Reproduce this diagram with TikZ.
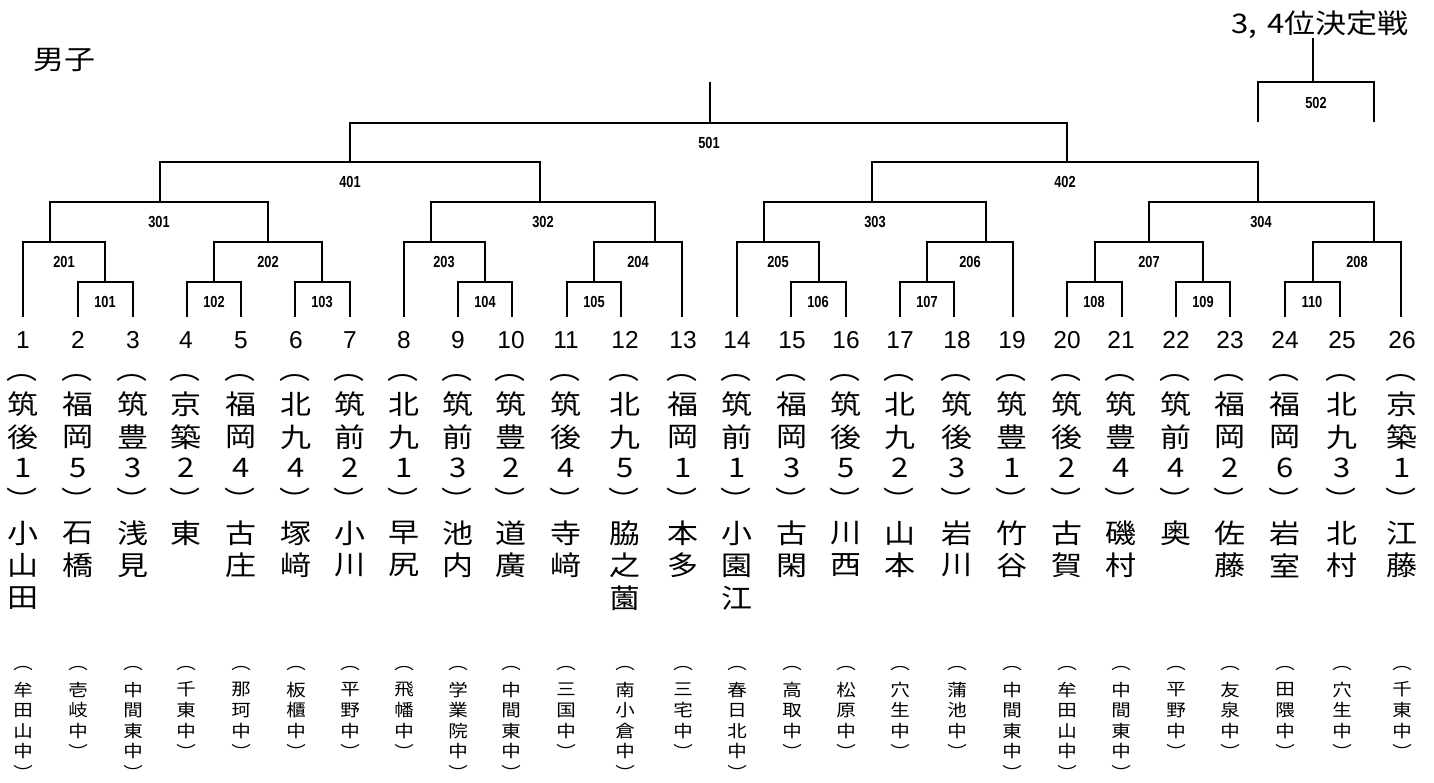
\documentclass[tikz,border=0pt]{standalone}
\usepackage{fontspec}
\setmainfont{Liberation Sans}
\newfontfamily\jpf{Noto Sans CJK JP}
\newcommand{\vsq}[1]{\scalebox{1}[0.87]{#1}}
\newcommand{\nrw}[1]{\scalebox{0.8}[1]{#1}}
\begin{document}
\begin{tikzpicture}[x=1pt,y=-1pt,
  bline/.style={line width=1.6pt,line join=miter},
  mlab/.style={inner sep=0pt,font=\fontsize{16}{16}\selectfont\bfseries},
  seed/.style={inner sep=0pt,font=\fontsize{24.5}{24.5}\selectfont},
  colch/.style={inner sep=0pt,font=\jpf\fontsize{31}{31}\selectfont},
  schch/.style={inner sep=0pt,font=\jpf\fontsize{19.5}{19.5}\selectfont},
  ttl/.style={inner sep=0pt,font=\jpf\fontsize{31}{31}\selectfont}]
\fill[white] (0,0) rectangle (1434,782);
\useasboundingbox (0,0) rectangle (1434,782);

\node[ttl] (boys) at (64,60) {\vsq{男子}};
\node[ttl] (third) at (1320,25) {\vsq{3,\hspace{0.35em}4位決定戦}};

\foreach \i/\x/\lx/\pa/\pb/\d/\nm/\sc in {
 1/23/23/筑/後/1/{小,山,田}/{︵,牟,田,山,中,︶},
 2/78/78/福/岡/5/{石,橋}/{︵,壱,岐,中,︶},
 3/133/133/筑/豊/3/{浅,見}/{︵,中,間,東,中,︶},
 4/186/187/京/築/2/{東}/{︵,千,東,中,︶},
 5/241/241/福/岡/4/{古,庄}/{︵,那,珂,中,︶},
 6/296/295/北/九/4/{塚,﨑}/{︵,板,櫃,中,︶},
 7/350/350/筑/前/2/{小,川}/{︵,平,野,中,︶},
 8/404/404/北/九/1/{早,尻}/{︵,飛,幡,中,︶},
 9/458/458/筑/前/3/{池,内}/{︵,学,業,院,中,︶},
 10/511/512/筑/豊/2/{道,廣}/{︵,中,間,東,中,︶},
 11/566/567/筑/後/4/{寺,﨑}/{︵,三,国,中,︶},
 12/625/621/北/九/5/{脇,之,薗}/{︵,南,小,倉,中,︶},
 13/683/682/福/岡/1/{本,多}/{︵,三,宅,中,︶},
 14/737/737/筑/前/1/{小,園,江}/{︵,春,日,北,中,︶},
 15/792/791/福/岡/3/{古,閑}/{︵,高,取,中,︶},
 16/846/846/筑/後/5/{川,西}/{︵,松,原,中,︶},
 17/900/900/北/九/2/{山,本}/{︵,穴,生,中,︶},
 18/957/954/筑/後/3/{岩,川}/{︵,蒲,池,中,︶},
 19/1012/1013/筑/豊/1/{竹,谷}/{︵,中,間,東,中,︶},
 20/1067/1067/筑/後/2/{古,賀}/{︵,牟,田,山,中,︶},
 21/1121/1122/筑/豊/4/{磯,村}/{︵,中,間,東,中,︶},
 22/1176/1176/筑/前/4/{奥}/{︵,平,野,中,︶},
 23/1230/1230/福/岡/2/{佐,藤}/{︵,友,泉,中,︶},
 24/1285/1285/福/岡/6/{岩,室}/{︵,田,隈,中,︶},
 25/1342/1340/北/九/3/{北,村}/{︵,穴,生,中,︶},
 26/1402/1401/京/築/1/{江,藤}/{︵,千,東,中,︶}}{
  \node[seed] (n\i) at (\x,340) {\i};
  \coordinate (l\i) at (\lx,317);
  \node[colch] (p\i-o) at (\x-1,378) {\vsq{︵}};
  \node[colch] (p\i-a) at (\x,404) {\vsq{\pa}};
  \node[colch] (p\i-b) at (\x,437) {\vsq{\pb}};
  \node[colch] (p\i-d) at (\x,468) {\vsq{\d}};
  \node[colch] (p\i-c) at (\x-1,499) {\vsq{︶}};
  \foreach \c [count=\k] in \sc {
    \node[schch] (p\i-s\k) at (\x,{669+20.6*(\k-1)}) {\vsq{\c}};
  }
  \foreach \c [count=\k] in \nm {
    \node[colch] (p\i-n\k) at (\x,{533+32.5*(\k-1)}) {\vsq{\c}};
  }
}

\foreach \m/\mx/\my/\a/\b/\tx in {
 101/105/282/l2/l3/105, 102/214/282/l4/l5/214, 103/322/282/l6/l7/322,
 104/485/282/l9/l10/485, 105/594/282/l11/l12/594, 106/819/282/l15/l16/818,
 107/927/282/l17/l18/927, 108/1095/282/l20/l21/1094, 109/1203/282/l22/l23/1203,
 110/1313/282/l24/l25/1312,
 201/50/242/l1/m101/64, 202/268/242/m102/m103/268, 203/431/242/l8/m104/444,
 204/655/242/m105/l13/638, 205/764/242/l14/m106/778, 206/986/242/m107/l19/970,
 207/1149/242/m108/m109/1149, 208/1374/242/m110/l26/1357,
 301/160/202/m201/m202/159, 302/540/202/m203/m204/543,
 303/872/202/m205/m206/875, 304/1258/202/m207/m208/1261,
 401/350/162/m301/m302/350, 402/1067/162/m303/m304/1065,
 501/710/123/m401/m402/709}{
  \coordinate (m\m) at (\mx,\my);
  \draw[bline] (\a) |- (m\m) -| (\b);
  \node[mlab] (lab\m) at (\tx,\my+20) {\nrw{\m}};
}
\coordinate (top501) at (710,82);
\draw[bline] (m501) -- (top501);

\coordinate (c502l) at (1258,122);
\coordinate (c502r) at (1374,122);
\coordinate (m502) at (1313,82);
\coordinate (t502) at (1313,38);
\draw[bline] (c502l) |- (m502) -| (c502r);
\draw[bline] (m502) -- (t502);
\node[mlab] (lab502) at (1316,103) {\nrw{502}};
\end{tikzpicture}
\end{document}
